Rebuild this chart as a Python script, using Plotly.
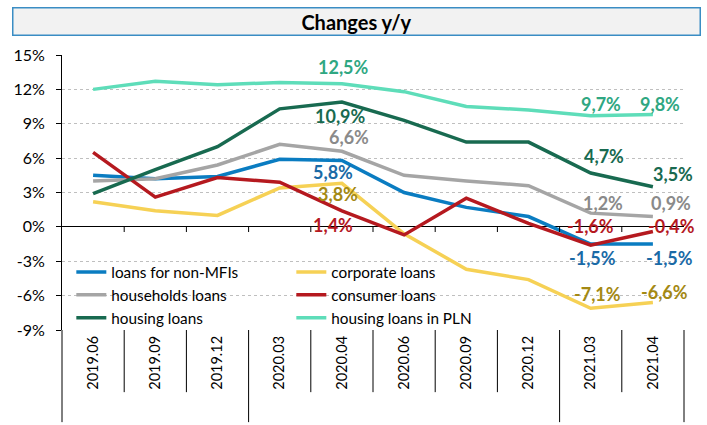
import plotly.graph_objects as go

# okresy
okresy = ["2019.06", "2019.09", "2019.12", "2020.03", "2020.04",
          "2020.06", "2020.09", "2020.12", "2021.03", "2021.04"]

# dynamika r/r (%)
kredyty_niemif = [4.5, 4.2, 4.4, 5.9, 5.8, 3.0, 1.7, 0.9, -1.5, -1.5]
kredyty_firm = [2.2, 1.4, 1.0, 3.4, 3.8, -0.6, -3.7, -4.6, -7.1, -6.6]
kredyty_gosp = [4.0, 4.2, 5.4, 7.2, 6.6, 4.5, 4.0, 3.6, 1.2, 0.9]
kredyty_konsum = [6.5, 2.6, 4.3, 3.9, 1.4, -0.7, 2.5, 0.3, -1.6, -0.4]
kredyty_mieszk = [2.9, 5.0, 7.0, 10.3, 10.9, 9.3, 7.4, 7.4, 4.7, 3.5]
kredyty_mieszk_pln = [12.0, 12.7, 12.4, 12.6, 12.5, 11.8, 10.5, 10.2, 9.7, 9.8]

y_ticks = [-9, -6, -3, 0, 3, 6, 9, 12, 15]
y_tick_labels = ["-9%", "-6%", "-3%", "0%", "3%", "6%", "9%", "12%", "15%"]

serie = [
    ("loans for non-MFIs", kredyty_niemif, "#0A7CC1", "#1A6AA6"),
    ("corporate loans", kredyty_firm, "#F6D155", "#A48913"),
    ("households loans", kredyty_gosp, "#A5A5A5", "#8A8A8A"),
    ("consumer loans", kredyty_konsum, "#B5191F", "#B5191F"),
    ("housing loans", kredyty_mieszk, "#186A50", "#186A50"),
    ("housing loans in PLN", kredyty_mieszk_pln, "#5EDDB9", "#2FA782"),
]

# etykiety: (indeks serii, indeks okresu, przesuniecie x, przesuniecie y w px)
etykiety = [
    (5, 4, 2, 17), (4, 4, -1, -14), (2, 4, 7, 14), (0, 4, -9, -12),
    (1, 4, -4, -11), (3, 4, -9, -14),
    (5, 8, 10, 12), (5, 9, 7, 11), (4, 8, 13, 17), (4, 9, 20, 13),
    (2, 8, 12, 10), (2, 9, 18, 14), (3, 8, 0, 19), (3, 9, 19, 5),
    (0, 8, 2, -14), (0, 9, 17, -14), (1, 8, 7, 14), (1, 9, 12, 11),
]

FONT = "Lato"
n = len(okresy)
pozycje = list(range(n))

fig = go.Figure()
for nazwa, wartosci, kolor, _ in serie:
    fig.add_trace(go.Scatter(x=pozycje, y=wartosci, name=nazwa, mode="lines",
                             line=dict(color=kolor, width=3.5)))

def fmt(v):
    return f"{v:.1f}".replace(".", ",") + "%"

adnotacje = []
for s, i, dx, dy in etykiety:
    _, wartosci, _, kolor_tekstu = serie[s]
    adnotacje.append(dict(x=pozycje[i], y=wartosci[i], text="<b>" + fmt(wartosci[i]) + "</b>",
                          showarrow=False, xshift=dx, yshift=dy,
                          font=dict(family=FONT, size=18, color=kolor_tekstu)))

# tytul w ramce
adnotacje.append(dict(xref="paper", yref="paper", x=0.4735, y=1.1236, xanchor="center",
                      yanchor="middle", text="<b>Changes y/y</b>", showarrow=False,
                      width=686, height=26, bgcolor="#F2F2F2", bordercolor="#3A8DC4",
                      borderwidth=1.5, borderpad=0,
                      font=dict(family=FONT, size=20, color="black")))

# linie podzialu osi kategorii
ksztalty = []
for k in range(n + 1):
    krawedz = k == 0 or k == n or okresy[k][:4] != okresy[k - 1][:4]
    ksztalty.append(dict(type="line", xref="x domain", yref="paper",
                         x0=k / n, x1=k / n, y0=0, y1=-0.335 if krawedz else -0.226,
                         line=dict(color="black", width=1)))
    # znaczniki na osi zero
    if 0 < k < n:
        ksztalty.append(dict(type="line", xref="x domain", yref="y",
                             x0=k / n, x1=k / n, y0=0, y1=-0.45,
                             line=dict(color="black", width=1)))

fig.update_layout(
    width=707, height=425,
    margin=dict(l=62, r=23, t=55, b=95, autoexpand=False),
    paper_bgcolor="white", plot_bgcolor="white",
    font=dict(family=FONT, size=14, color="black"),
    showlegend=True,
    legend=dict(orientation="h", x=0.015, y=0.271, xanchor="left", yanchor="top",
                entrywidth=175, entrywidthmode="pixels", bgcolor="rgba(0,0,0,0)",
                font=dict(family=FONT, size=15.3), traceorder="normal"),
    annotations=adnotacje,
    shapes=ksztalty,
)
fig.update_xaxes(range=[-0.5, n - 0.5], tickvals=pozycje, ticktext=okresy, tickangle=-90,
                 showgrid=False, ticks="", showline=False, zeroline=False, automargin=False,
                 ticklabelstandoff=2, tickfont=dict(family=FONT, size=14.5))
fig.update_yaxes(range=[-9, 15], tickvals=y_ticks, ticktext=y_tick_labels, showgrid=True,
                 gridcolor="#BFBFBF", griddash="dot", gridwidth=1,
                 zeroline=True, zerolinecolor="black", zerolinewidth=1,
                 showline=True, linecolor="black", linewidth=1, automargin=False,
                 ticks="outside", ticklen=5, tickcolor="black", ticklabelstandoff=8,
                 tickfont=dict(family=FONT, size=16))

# bez domyslnego marginesu strony i bez paska narzedzi
fig.write_html("out.html", config={"displayModeBar": False},
               post_script="document.body.style.margin = '0';")
